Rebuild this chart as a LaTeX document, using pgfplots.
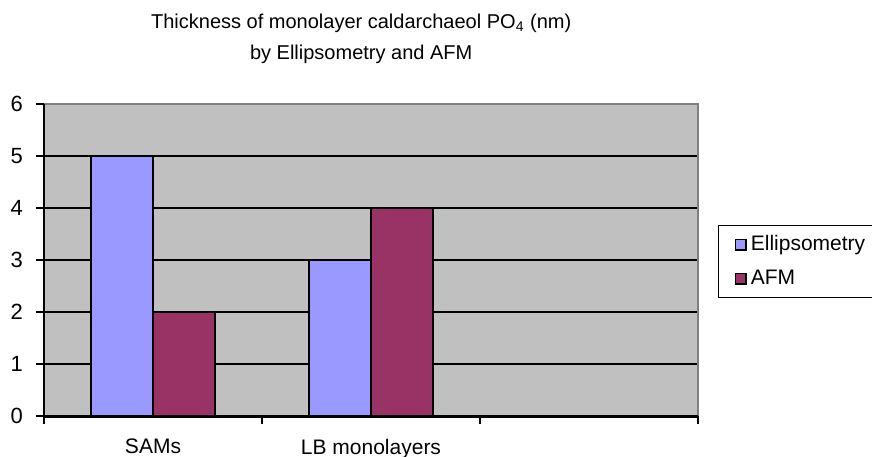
\documentclass[border=0pt]{standalone}
\usepackage{fontspec}
\setmainfont{Liberation Sans}
\usepackage{pgfplots}
\pgfplotsset{compat=1.18}
\definecolor{bgc}{RGB}{192,192,192}
\definecolor{ell}{RGB}{153,153,255}
\definecolor{afm}{RGB}{153,51,102}
\definecolor{brd}{RGB}{128,128,128}
\begin{document}
\begin{tikzpicture}
\useasboundingbox (0,0) rectangle (436pt,228pt);
\begin{axis}[
  at={(22pt,20pt)}, anchor=south west,
  scale only axis, width=327pt, height=156pt,
  xmin=-0.5, xmax=2.5, ymin=0, ymax=6,
  clip=false,
  ybar=0pt, bar width=0.284,
  axis background/.style={fill=bgc},
  axis line style={draw=none},
  /pgf/number format/assume math mode=true,
  tick align=outside, xtick pos=bottom, ytick pos=left,
  tick style={black, line width=0.6pt},
  major tick length=4pt,
  xtick={-0.5,0.5,1.5,2.5}, xticklabels={},
  extra x ticks={0,1}, extra x tick labels={SAMs, LB monolayers},
  extra x tick style={major tick length=0pt, tick label style={font=\fontsize{10.5}{12}\selectfont, yshift=-8pt}},
  ytick={0,1,2,3,4,5,6},
  yticklabel style={font=\fontsize{11}{12}\selectfont, xshift=-3pt},
  ymajorgrids,
  major grid style={black, line width=0.6pt},
  extra y ticks={2,5}, extra y tick labels={},
  extra y tick style={major grid style={black, line width=1.3pt}},
  title={Thickness of monolayer caldarchaeol PO\textsubscript{4} (nm)\\by Ellipsometry and AFM},
  title style={at={(0.485,1.17)}, anchor=center, align=center, font=\fontsize{10}{15.5}\selectfont},
  legend style={at={(1.031,0.612)}, anchor=north west, draw=black, line width=0.6pt,
    font=\fontsize{10.5}{12}\selectfont, row sep=4pt, inner xsep=2pt, inner ysep=3pt,
    cells={anchor=west}},
  legend image code/.code={\path (0pt,0pt); \draw[#1, line width=0.7pt] (6pt,-2.6pt) rectangle (11.2pt,2.6pt);},
]
\addplot[fill=ell, draw=black, line width=0.9pt] coordinates {(0,5) (1,3)};
\addplot[fill=afm, draw=black, line width=0.9pt] coordinates {(0,2) (1,4)};
\legend{Ellipsometry, AFM}
\draw[brd, line width=1.4pt] (rel axis cs:0,1) -- (rel axis cs:1,1) -- (rel axis cs:1,0);
\draw[black, line width=0.6pt] (rel axis cs:0,0) -- (rel axis cs:0,1);
\draw[black, line width=1.5pt] (rel axis cs:0,0) -- (rel axis cs:1,0);
\end{axis}
\end{tikzpicture}
\end{document}
